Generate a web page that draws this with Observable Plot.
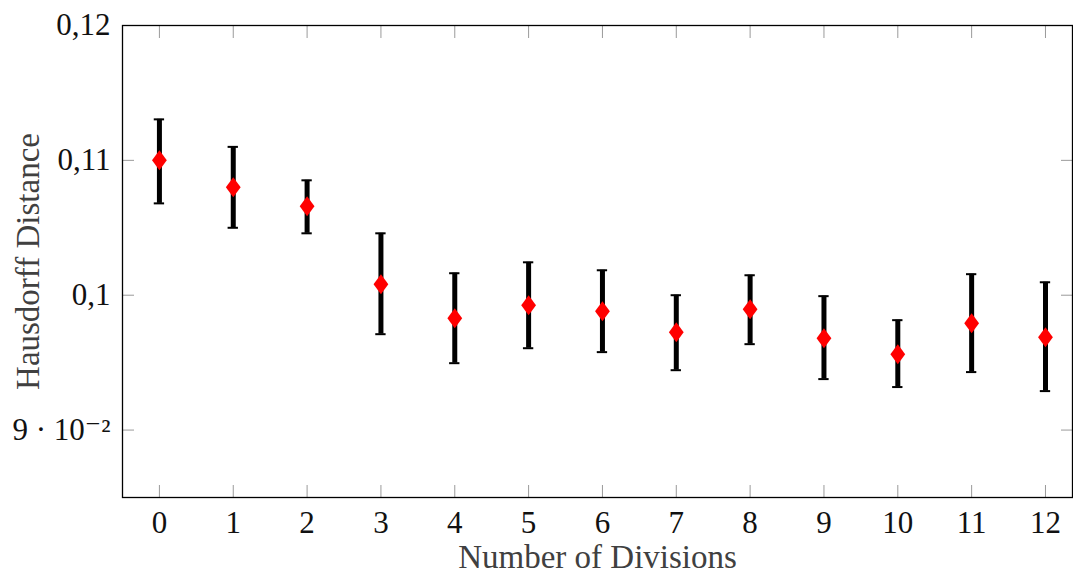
<!DOCTYPE html>
<html><head><meta charset="utf-8">
<script src="https://cdn.jsdelivr.net/npm/d3@7"></script>
<script src="https://cdn.jsdelivr.net/npm/@observablehq/plot@0.6"></script>
<style>body{margin:0;background:#fff}</style>
</head><body><div id="chart"></div>
<script>
const divisions = [0,1,2,3,4,5,6,7,8,9,10,11,12];
const meanDistance = [0.1100,0.1080,0.10659,0.10081,0.09830,0.09926,0.09881,0.09726,0.09896,0.09681,0.09563,0.09793,0.09689];
const upperBound   = [0.11304,0.1110,0.10852,0.10459,0.10163,0.10244,0.10185,0.1000,0.10148,0.09993,0.09815,0.10156,0.10096];
const lowerBound   = [0.10681,0.1050,0.10459,0.09711,0.09496,0.09607,0.09578,0.09444,0.09637,0.09378,0.09319,0.09430,0.09289];
const yTicks = [0.09,0.1,0.11,0.12];
const yTickLabels = ["9 · 10⁻²","0,1","0,11","0,12"];
const xLabel = "Number of Divisions";
const yLabel = "Hausdorff Distance";

const data = divisions.map((x,i)=>({x, y: meanDistance[i], hi: upperBound[i], lo: lowerBound[i]}));
const capHalf = 0.07;
const diamond = {draw(ctx, size){const h=Math.sqrt(size/Math.PI);const w=h*0.74;ctx.moveTo(0,-h);ctx.lineTo(w,0);ctx.lineTo(0,h);ctx.lineTo(-w,0);ctx.closePath();}};
const font = "'Liberation Serif', 'DejaVu Serif', serif";
const tickColor = "#9a9a9a";

const chart = Plot.plot({
  width: 1073, height: 575,
  marginLeft: 122, marginRight: 1, marginTop: 25, marginBottom: 78,
  style: {fontFamily: font, background: "#fff", color: "#111"},
  x: {domain: [-0.5, 12.366]},
  y: {domain: [0.085, 0.12]},
  marks: [
    Plot.axisX(divisions, {anchor: "bottom", tickSize: -12, stroke: tickColor, tickFormat: () => "", label: null}),
    Plot.axisX(divisions, {anchor: "top", tickSize: -12, stroke: tickColor, tickFormat: () => "", label: null}),
    Plot.axisY(yTicks, {anchor: "left", tickSize: -12, stroke: tickColor, tickFormat: () => "", label: null}),
    Plot.axisY(yTicks, {anchor: "right", tickSize: -12, stroke: tickColor, tickFormat: () => "", label: null}),
    Plot.axisX(divisions, {anchor: "bottom", tickSize: 0, tickPadding: 13, fontSize: 31, fill: "#111", label: null}),
    Plot.axisY(yTicks, {anchor: "left", tickSize: 0, tickPadding: 12, fontSize: 31, fill: "#111", tickFormat: d => yTickLabels[yTicks.indexOf(d)], label: null}),
    Plot.text([yLabel], {frameAnchor: "left", dx: -94, rotate: -90, textAnchor: "middle", lineAnchor: "middle", fontSize: 33, fill: "#404040"}),
    Plot.text([xLabel], {frameAnchor: "bottom", dy: 60, textAnchor: "middle", lineAnchor: "middle", fontSize: 33, fill: "#404040"}),
    Plot.ruleX(data, {x: "x", y1: "lo", y2: "hi", stroke: "black", strokeWidth: 5}),
    Plot.ruleY(data, {y: "hi", x1: d => d.x - capHalf, x2: d => d.x + capHalf, stroke: "black", strokeWidth: 2}),
    Plot.ruleY(data, {y: "lo", x1: d => d.x - capHalf, x2: d => d.x + capHalf, stroke: "black", strokeWidth: 2}),
    Plot.dot(data, {x: "x", y: "y", symbol: diamond, r: 10, fill: "red", stroke: "none"}),
    Plot.frame({stroke: "black", strokeWidth: 1.3})
  ]
});
document.getElementById("chart").append(chart);
</script>
</body></html>
